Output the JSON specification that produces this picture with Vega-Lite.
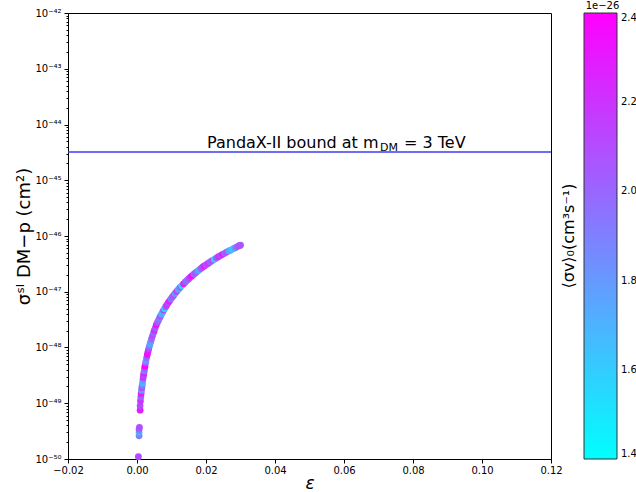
{
  "$schema": "https://vega.github.io/schema/vega-lite/v6.json",
  "width": 483,
  "height": 446,
  "autosize": {"type": "none"},
  "padding": {"left": 68, "top": 13, "right": 85, "bottom": 33},
  "background": "white",
  "config": {
    "font": "DejaVu Sans",
    "view": {"stroke": "#000", "strokeWidth": 1},
    "axis": {"domainColor": "#000", "tickColor": "#000", "labelColor": "#000", "titleColor": "#000", "grid": false, "labelFont": "DejaVu Sans", "titleFont": "DejaVu Sans", "titleFontWeight": "normal", "labelFlush": false},
    "legend": {"labelFont": "DejaVu Sans", "titleFont": "DejaVu Sans"}
  },
  "datasets": {
    "pts": [
      {"eps": 0.0004, "sigma": 1.1e-50, "sv": 2.1e-26},
      {"eps": 0.0006, "sigma": 2.6e-50, "sv": 1.9e-26},
      {"eps": 0.0006, "sigma": 3.0e-50, "sv": 1.7e-26},
      {"eps": 0.0006, "sigma": 3.4e-50, "sv": 2.0e-26},
      {"eps": 0.0007, "sigma": 3.7e-50, "sv": 2.1e-26},
      {"eps": 0.0009, "sigma": 7.5e-50, "sv": 2.3e-26},
      {"eps": 0.0009, "sigma": 9.0e-50, "sv": 2.1e-26},
      {"eps": 0.0010, "sigma": 1.1e-49, "sv": 2.2e-26},
      {"eps": 0.0011, "sigma": 1.3e-49, "sv": 2.0e-26},
      {"eps": 0.0012, "sigma": 1.5e-49, "sv": 2.3e-26},
      {"eps": 0.0013, "sigma": 1.7e-49, "sv": 1.8e-26},
      {"eps": 0.0014, "sigma": 1.9e-49, "sv": 2.1e-26},
      {"eps": 0.0015, "sigma": 2.1e-49, "sv": 1.9e-26},
      {"eps": 0.0016, "sigma": 2.3e-49, "sv": 1.7e-26},
      {"eps": 0.0017, "sigma": 2.6e-49, "sv": 1.8e-26},
      {"eps": 0.0018, "sigma": 2.9e-49, "sv": 2.2e-26},
      {"eps": 0.0019, "sigma": 3.2e-49, "sv": 2.1e-26},
      {"eps": 0.0020, "sigma": 3.5e-49, "sv": 2.3e-26},
      {"eps": 0.0021, "sigma": 3.8e-49, "sv": 1.9e-26},
      {"eps": 0.0022, "sigma": 4.2e-49, "sv": 2.0e-26},
      {"eps": 0.0023, "sigma": 4.6e-49, "sv": 2.4e-26},
      {"eps": 0.0025, "sigma": 5.3e-49, "sv": 2.1e-26},
      {"eps": 0.0026, "sigma": 5.7e-49, "sv": 1.8e-26},
      {"eps": 0.0028, "sigma": 6.6e-49, "sv": 2.0e-26},
      {"eps": 0.0030, "sigma": 7.5e-49, "sv": 2.35e-26},
      {"eps": 0.0032, "sigma": 8.5e-49, "sv": 2.3e-26},
      {"eps": 0.0034, "sigma": 9.5e-49, "sv": 2.1e-26},
      {"eps": 0.0036, "sigma": 1.06e-48, "sv": 1.9e-26},
      {"eps": 0.0038, "sigma": 1.17e-48, "sv": 1.75e-26},
      {"eps": 0.0040, "sigma": 1.28e-48, "sv": 1.8e-26},
      {"eps": 0.0042, "sigma": 1.42e-48, "sv": 2.0e-26},
      {"eps": 0.0045, "sigma": 1.62e-48, "sv": 2.1e-26},
      {"eps": 0.0048, "sigma": 1.83e-48, "sv": 2.0e-26},
      {"eps": 0.0050, "sigma": 2.0e-48, "sv": 2.2e-26},
      {"eps": 0.0053, "sigma": 2.25e-48, "sv": 2.05e-26},
      {"eps": 0.0056, "sigma": 2.55e-48, "sv": 2.35e-26},
      {"eps": 0.0059, "sigma": 2.8e-48, "sv": 2.1e-26},
      {"eps": 0.0062, "sigma": 3.05e-48, "sv": 2.0e-26},
      {"eps": 0.0065, "sigma": 3.35e-48, "sv": 1.9e-26},
      {"eps": 0.0068, "sigma": 3.65e-48, "sv": 2.1e-26},
      {"eps": 0.0071, "sigma": 3.95e-48, "sv": 1.75e-26},
      {"eps": 0.0074, "sigma": 4.3e-48, "sv": 1.7e-26},
      {"eps": 0.0077, "sigma": 4.65e-48, "sv": 2.1e-26},
      {"eps": 0.0080, "sigma": 5.0e-48, "sv": 1.5e-26},
      {"eps": 0.0083, "sigma": 5.35e-48, "sv": 2.0e-26},
      {"eps": 0.0086, "sigma": 5.75e-48, "sv": 2.2e-26},
      {"eps": 0.0090, "sigma": 6.3e-48, "sv": 2.1e-26},
      {"eps": 0.0094, "sigma": 6.8e-48, "sv": 2.3e-26},
      {"eps": 0.0098, "sigma": 7.4e-48, "sv": 1.9e-26},
      {"eps": 0.0102, "sigma": 8.0e-48, "sv": 2.0e-26},
      {"eps": 0.0106, "sigma": 8.6e-48, "sv": 2.1e-26},
      {"eps": 0.0110, "sigma": 9.3e-48, "sv": 1.8e-26},
      {"eps": 0.0115, "sigma": 1.01e-47, "sv": 2.15e-26},
      {"eps": 0.0120, "sigma": 1.1e-47, "sv": 1.75e-26},
      {"eps": 0.0125, "sigma": 1.2e-47, "sv": 2.0e-26},
      {"eps": 0.0130, "sigma": 1.29e-47, "sv": 1.5e-26},
      {"eps": 0.0135, "sigma": 1.39e-47, "sv": 2.3e-26},
      {"eps": 0.0140, "sigma": 1.5e-47, "sv": 2.05e-26},
      {"eps": 0.0145, "sigma": 1.6e-47, "sv": 1.95e-26},
      {"eps": 0.0150, "sigma": 1.71e-47, "sv": 2.1e-26},
      {"eps": 0.0155, "sigma": 1.83e-47, "sv": 2.2e-26},
      {"eps": 0.0160, "sigma": 1.95e-47, "sv": 2.4e-26},
      {"eps": 0.0165, "sigma": 2.07e-47, "sv": 2.0e-26},
      {"eps": 0.0170, "sigma": 2.2e-47, "sv": 2.1e-26},
      {"eps": 0.0175, "sigma": 2.33e-47, "sv": 1.9e-26},
      {"eps": 0.0180, "sigma": 2.46e-47, "sv": 1.7e-26},
      {"eps": 0.0185, "sigma": 2.6e-47, "sv": 2.0e-26},
      {"eps": 0.0190, "sigma": 2.75e-47, "sv": 2.1e-26},
      {"eps": 0.0195, "sigma": 2.9e-47, "sv": 2.3e-26},
      {"eps": 0.0200, "sigma": 3.04e-47, "sv": 2.05e-26},
      {"eps": 0.0206, "sigma": 3.22e-47, "sv": 2.2e-26},
      {"eps": 0.0212, "sigma": 3.42e-47, "sv": 2.0e-26},
      {"eps": 0.0218, "sigma": 3.62e-47, "sv": 2.1e-26},
      {"eps": 0.0224, "sigma": 3.82e-47, "sv": 1.6e-26},
      {"eps": 0.0230, "sigma": 4.02e-47, "sv": 2.0e-26},
      {"eps": 0.0236, "sigma": 4.25e-47, "sv": 2.2e-26},
      {"eps": 0.0242, "sigma": 4.45e-47, "sv": 2.1e-26},
      {"eps": 0.0248, "sigma": 4.7e-47, "sv": 2.3e-26},
      {"eps": 0.0254, "sigma": 4.9e-47, "sv": 2.0e-26},
      {"eps": 0.0260, "sigma": 5.15e-47, "sv": 2.1e-26},
      {"eps": 0.0266, "sigma": 5.4e-47, "sv": 1.75e-26},
      {"eps": 0.0272, "sigma": 5.6e-47, "sv": 1.7e-26},
      {"eps": 0.0278, "sigma": 5.9e-47, "sv": 1.6e-26},
      {"eps": 0.0284, "sigma": 6.1e-47, "sv": 1.8e-26},
      {"eps": 0.0290, "sigma": 6.4e-47, "sv": 2.0e-26},
      {"eps": 0.0296, "sigma": 6.7e-47, "sv": 2.1e-26},
      {"eps": 0.0300, "sigma": 6.85e-47, "sv": 2.05e-26}
    ],
    "bound": [{"x": 0.0203, "sigma": 3.2e-45}]
  },
  "layer": [
    {
      "data": {"name": "pts"},
      "mark": {"type": "circle", "size": 46, "opacity": 1},
      "encoding": {
        "x": {
          "field": "eps", "type": "quantitative",
          "scale": {"domain": [-0.02, 0.12], "nice": false, "zero": false},
          "axis": {
            "values": [-0.02, 0, 0.02, 0.04, 0.06, 0.08, 0.1, 0.12],
            "format": ".2f", "labelFontSize": 10, "tickSize": 4, "labelPadding": 2, "labelFlush": false,
            "title": "ε", "titleFontSize": 17, "titleFontStyle": "italic", "titlePadding": 0
          }
        },
        "y": {
          "field": "sigma", "type": "quantitative",
          "scale": {"type": "log", "domain": [1e-50, 1e-42], "nice": false},
          "axis": {
            "values": [1e-50, 2e-50, 3e-50, 4e-50, 5e-50, 6e-50, 7e-50, 8e-50, 9e-50,
                       1e-49, 2e-49, 3e-49, 4e-49, 5e-49, 6e-49, 7e-49, 8e-49, 9e-49,
                       1e-48, 2e-48, 3e-48, 4e-48, 5e-48, 6e-48, 7e-48, 8e-48, 9e-48,
                       1e-47, 2e-47, 3e-47, 4e-47, 5e-47, 6e-47, 7e-47, 8e-47, 9e-47,
                       1e-46, 2e-46, 3e-46, 4e-46, 5e-46, 6e-46, 7e-46, 8e-46, 9e-46,
                       1e-45, 2e-45, 3e-45, 4e-45, 5e-45, 6e-45, 7e-45, 8e-45, 9e-45,
                       1e-44, 2e-44, 3e-44, 4e-44, 5e-44, 6e-44, 7e-44, 8e-44, 9e-44,
                       1e-43, 2e-43, 3e-43, 4e-43, 5e-43, 6e-43, 7e-43, 8e-43, 9e-43,
                       1e-42],
            "labelExpr": "abs(log(datum.value)/LN10 - round(log(datum.value)/LN10)) < 0.001 ? '10⁻' + substring('⁰¹²³⁴⁵⁶⁷⁸⁹', floor(-round(log(datum.value)/LN10)/10), floor(-round(log(datum.value)/LN10)/10)+1) + substring('⁰¹²³⁴⁵⁶⁷⁸⁹', (-round(log(datum.value)/LN10))%10, (-round(log(datum.value)/LN10))%10+1) : ''",
            "labelOverlap": false, "labelFontSize": 10, "labelPadding": 3, "labelFlush": false,
            "tickSize": {"condition": {"test": "abs(log(datum.value)/LN10 - round(log(datum.value)/LN10)) < 0.001", "value": 4}, "value": 2},
            "title": "σˢᴵ DM−p (cm²)", "titleFontSize": 18, "titlePadding": 1
          }
        },
        "color": {
          "field": "sv", "type": "quantitative",
          "scale": {"domain": [1.4e-26, 2.4e-26], "range": ["#00ffff", "#ff00ff"], "interpolate": "rgb"},
          "legend": {
            "orient": "none", "legendX": 493, "legendY": 0, "direction": "vertical",
            "gradientLength": 446, "gradientThickness": 33,
            "gradientStrokeColor": "#333", "gradientStrokeWidth": 1,
            "values": [1.4e-26, 1.6e-26, 1.8e-26, 2.0e-26, 2.2e-26, 2.4e-26],
            "labelExpr": "format(datum.value/1e-26, '.1f')",
            "labelFontSize": 10, "labelBaseline": "middle", "labelOffset": 4, "labelColor": "#000",
            "title": "⟨σv⟩₀(cm³s⁻¹)", "titleOrient": "left", "titleAnchor": "middle",
            "titleFontSize": 16, "titleFontWeight": "normal", "titleColor": "#000", "titlePadding": 6
          }
        }
      }
    },
    {
      "data": {"name": "bound"},
      "mark": {"type": "rule", "color": "#3c3cf0", "strokeWidth": 1.5},
      "encoding": {
        "y": {
          "field": "sigma", "type": "quantitative",
          "axis": {"orient": "right", "domain": false, "ticks": false, "labels": false, "grid": false,
                   "title": "1e−26", "titleAngle": 0, "titleX": 51, "titleY": -3,
                   "titleAlign": "center", "titleBaseline": "bottom", "titleFontSize": 10}
        }
      }
    },
    {
      "data": {"name": "bound"},
      "mark": {"type": "text", "text": "PandaX-II bound at m", "align": "left", "baseline": "alphabetic", "dy": -4, "fontSize": 16, "color": "#000"},
      "encoding": {"x": {"field": "x", "type": "quantitative", "scale": {"domain": [-0.02, 0.12], "nice": false, "zero": false}}, "y": {"field": "sigma", "type": "quantitative", "axis": null}}
    },
    {
      "data": {"name": "bound"},
      "mark": {"type": "text", "text": "DM", "align": "left", "baseline": "alphabetic", "dx": 173, "dy": -1, "fontSize": 11, "color": "#000"},
      "encoding": {"x": {"field": "x", "type": "quantitative", "scale": {"domain": [-0.02, 0.12], "nice": false, "zero": false}}, "y": {"field": "sigma", "type": "quantitative", "axis": null}}
    },
    {
      "data": {"name": "bound"},
      "mark": {"type": "text", "text": "= 3 TeV", "align": "left", "baseline": "alphabetic", "dx": 197, "dy": -4, "fontSize": 16, "color": "#000"},
      "encoding": {"x": {"field": "x", "type": "quantitative", "scale": {"domain": [-0.02, 0.12], "nice": false, "zero": false}}, "y": {"field": "sigma", "type": "quantitative", "axis": null}}
    }
  ],
  "resolve": {"axis": {"y": "independent"}}
}
